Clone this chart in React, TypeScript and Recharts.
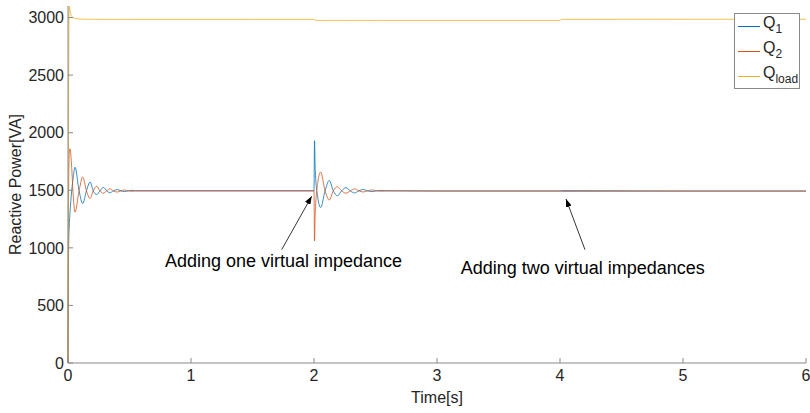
import React from "react";
import { LineChart, Line, XAxis, YAxis, ReferenceLine, ReferenceDot, Legend } from "recharts";

// simulation time [s] shared by all three series
const times = [
  0, 0.005, 0.01, 0.016, 0.03, 0.04, 0.057, 0.09, 0.12, 0.15, 0.18, 0.205, 0.233, 0.26, 0.287, 0.315,
  0.34, 0.37, 0.4, 0.43, 0.46, 0.49, 0.52, 0.56, 1.0, 1.5, 2.0, 2.004, 2.01, 2.03, 2.054, 2.09, 2.124,
  2.157, 2.19, 2.225, 2.26, 2.295, 2.33, 2.365, 2.4, 2.435, 2.47, 2.505, 2.54, 2.6, 3.0, 4.0, 4.01, 5.0, 6.0,
];

const q1 = [
  0, 1000, 1190, 1300, 1495, 1590, 1700, 1495, 1385, 1495, 1572, 1495, 1463, 1495, 1525, 1495,
  1478, 1495, 1506, 1495, 1488, 1495, 1499, 1495, 1495, 1495, 1495, 1930, 1680, 1440, 1350, 1495, 1586,
  1495, 1452, 1495, 1523, 1495, 1477, 1495, 1507, 1495, 1488, 1495, 1499, 1495, 1494, 1494, 1497, 1494, 1494,
];

const q2 = [
  0, 1500, 1820, 1860, 1700, 1495, 1310, 1495, 1615, 1495, 1428, 1495, 1535, 1495, 1475, 1495,
  1513, 1495, 1484, 1495, 1502, 1495, 1491, 1495, 1495, 1495, 1495, 1060, 1300, 1560, 1659, 1495, 1415,
  1495, 1530, 1495, 1474, 1495, 1512, 1495, 1485, 1495, 1503, 1495, 1491, 1495, 1493, 1493, 1490, 1492, 1492,
];

const qLoad = [
  0, 2300, 3100, 3060, 3010, 3000, 2993, 2988, 2986, 2985, 2985, 2985, 2985, 2984, 2984, 2984,
  2984, 2984, 2984, 2984, 2984, 2984, 2984, 2984, 2984, 2984, 2984, 2978, 2976, 2975, 2975, 2975, 2975,
  2975, 2975, 2975, 2975, 2975, 2975, 2975, 2975, 2975, 2975, 2975, 2975, 2975, 2975, 2975, 2984, 2985, 2985,
];

const xTicks = [0, 1, 2, 3, 4, 5, 6];
const yTicks = [0, 500, 1000, 1500, 2000, 2500, 3000];

const series = [
  { key: "q1", sub: "1", color: "#0072BD" },
  { key: "q2", sub: "2", color: "#D95319" },
  { key: "qLoad", sub: "load", color: "#EDB120" },
];

const data = times.map((t, i) => ({ t, q1: q1[i], q2: q2[i], qLoad: qLoad[i] }));

const FONT = "'Liberation Sans', Arial, Helvetica, sans-serif";
const TEXT = "#262626";
const AXIS = "#8a8a8a";

const tickStyle = { fontSize: 16, fill: TEXT, fontFamily: FONT };

const renderLegend = () => (
  <div
    style={{
      position: "relative",
      width: 64,
      height: 74,
      border: `1px solid ${AXIS}`,
      background: "#fff",
      fontFamily: FONT,
      fontSize: 16,
      color: TEXT,
    }}
  >
    {series.map((s, i) => (
      <div
        key={s.key}
        style={{ position: "absolute", left: 3, top: 2 + i * 25, height: 20, display: "flex", alignItems: "center" }}
      >
        <span style={{ display: "inline-block", width: 22, height: 1, background: s.color }} />
        <span style={{ marginLeft: 3, lineHeight: "16px" }}>
          Q<sub style={{ fontSize: 12, verticalAlign: "-5px" }}>{s.sub}</sub>
        </span>
      </div>
    ))}
  </div>
);

const YLabel = ({ viewBox }: any) => {
  const cx = viewBox.x + 15;
  const cy = viewBox.y + viewBox.height / 2;
  return (
    <text
      x={cx}
      y={cy}
      transform={`rotate(-90 ${cx} ${cy})`}
      textAnchor="middle"
      dominantBaseline="central"
      fontSize={16}
      fontFamily={FONT}
      fill={TEXT}
    >
      Reactive Power[VA]
    </text>
  );
};

const XLabel = ({ viewBox }: any) => (
  <text
    x={viewBox.x + viewBox.width / 2}
    y={viewBox.y + 40}
    textAnchor="middle"
    fontSize={16}
    fontFamily={FONT}
    fill={TEXT}
  >
    Time[s]
  </text>
);

const arrowShape = (p: any) => (
  <line x1={p.x1} y1={p.y1} x2={p.x2} y2={p.y2} stroke="#000" strokeWidth={0.8} markerEnd="url(#arrowHead)" />
);

export default function App() {
  return (
    <div style={{ width: 810, height: 413, position: "relative", background: "#fff" }}>
      <style>{"body{margin:0}"}</style>
      <LineChart width={810} height={413} data={data} margin={{ top: 6, right: 4, bottom: 0, left: 0 }}>
        <defs>
          <marker
            id="arrowHead"
            markerWidth={8}
            markerHeight={6}
            refX={8}
            refY={3}
            orient="auto"
            markerUnits="userSpaceOnUse"
          >
            <path d="M0,0 L8,3 L0,6 z" fill="#000" />
          </marker>
        </defs>
        <XAxis
          dataKey="t"
          type="number"
          domain={[0, 6]}
          ticks={xTicks}
          height={50}
          stroke={AXIS}
          tickSize={-5}
          tickMargin={12}
          tick={tickStyle}
          label={<XLabel />}
        />
        <XAxis
          xAxisId="top"
          orientation="top"
          dataKey="t"
          type="number"
          domain={[0, 6]}
          ticks={xTicks}
          height={0}
          stroke={AXIS}
          tickSize={-5}
          tickFormatter={() => ""}
        />
        <YAxis
          type="number"
          domain={[0, 3100]}
          ticks={yTicks}
          width={68}
          stroke={AXIS}
          tickSize={-5}
          tickMargin={9}
          tick={tickStyle}
          label={<YLabel />}
        />
        <YAxis
          yAxisId="right"
          orientation="right"
          type="number"
          domain={[0, 3100]}
          ticks={yTicks}
          width={0}
          stroke={AXIS}
          tickSize={-5}
          tickFormatter={() => ""}
        />
        {series.map((s) => (
          <Line
            key={s.key}
            type="monotone"
            dataKey={s.key}
            stroke={s.color}
            strokeWidth={0.8}
            dot={false}
            activeDot={false}
            isAnimationActive={false}
          />
        ))}
        <ReferenceLine
          segment={[
            { x: 1.737, y: 984 },
            { x: 1.981, y: 1447 },
          ]}
          shape={arrowShape}
        />
        <ReferenceLine
          segment={[
            { x: 4.203, y: 984 },
            { x: 4.049, y: 1424 },
          ]}
          shape={arrowShape}
        />
        <ReferenceDot
          x={1.752}
          y={889}
          r={0}
          fill="none"
          stroke="none"
          label={{ value: "Adding one virtual impedance", position: "center", fontSize: 18, fill: "#000", fontFamily: FONT }}
        />
        <ReferenceDot
          x={4.185}
          y={830}
          r={0}
          fill="none"
          stroke="none"
          label={{ value: "Adding two virtual impedances", position: "center", fontSize: 18, fill: "#000", fontFamily: FONT }}
        />
        <Legend
          layout="vertical"
          align="center"
          verticalAlign="middle"
          content={renderLegend}
          wrapperStyle={{ position: "absolute", left: 734, top: 13, width: 66, height: 76 }}
        />
      </LineChart>
    </div>
  );
}
